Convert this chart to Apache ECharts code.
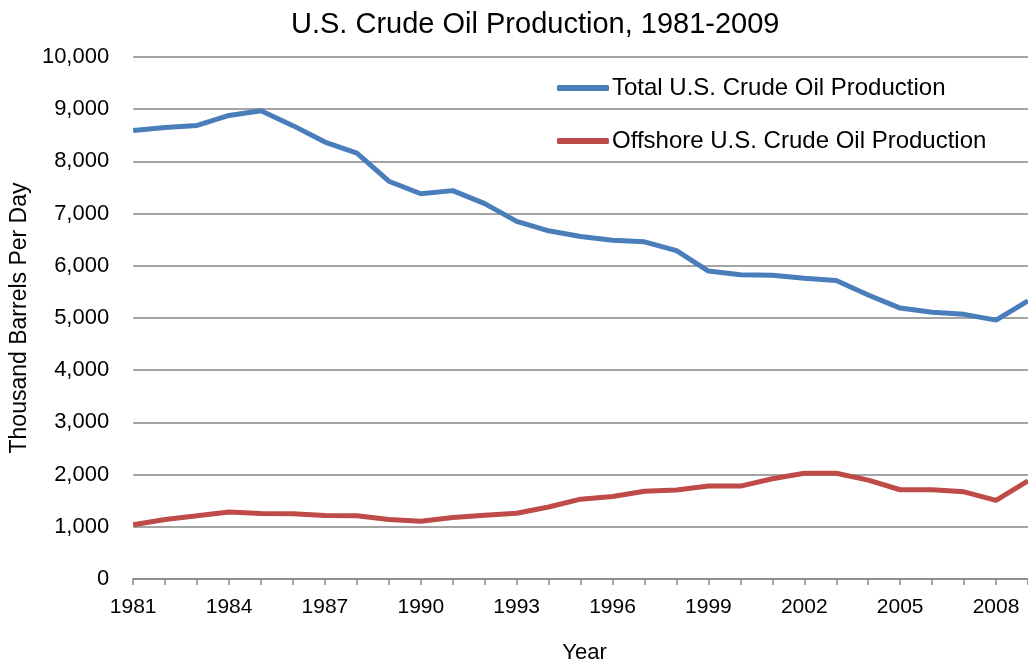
<!DOCTYPE html>
<html>
<head>
<meta charset="utf-8">
<script src="https://cdn.jsdelivr.net/npm/echarts@6/dist/echarts.min.js"></script>
<style>
  html, body { margin: 0; padding: 0; background: #fff; }
  #main { width: 1028px; height: 669px; }
</style>
</head>
<body>
<div id="main"></div>
<script>
// years on the x axis
var years = [];
for (var y = 1981; y <= 2009; y++) years.push(String(y));

// thousand barrels per day
var totalProd = [8590, 8650, 8690, 8880, 8970, 8685, 8370, 8160, 7620, 7380,
                 7440, 7190, 6850, 6670, 6560, 6490, 6460, 6290, 5900, 5830,
                 5820, 5760, 5720, 5440, 5190, 5110, 5070, 4960, 5330];
var offshoreProd = [1040, 1140, 1210, 1285, 1255, 1250, 1215, 1210, 1140, 1105,
                    1180, 1220, 1260, 1380, 1530, 1580, 1680, 1705, 1780, 1780,
                    1920, 2025, 2025, 1895, 1710, 1710, 1670, 1505, 1880];

var font = 'Liberation Sans, Arial, sans-serif';

echarts.init(document.getElementById('main')).setOption({
    animation: false,
    title: {
        text: 'U.S. Crude Oil Production, 1981-2009',
        left: 286,
        top: 5,
        textStyle: { fontFamily: font, fontSize: 29, fontWeight: 'normal', color: '#000' }
    },
    legend: {
        orient: 'vertical',
        left: 552,
        top: 71,
        itemGap: 29,
        itemWidth: 52,
        itemHeight: 6,
        icon: 'roundRect',
        textStyle: { fontFamily: font, fontSize: 24, color: '#000', padding: [0, 0, 0, -2] },
        data: ['Total U.S. Crude Oil Production', 'Offshore U.S. Crude Oil Production']
    },
    grid: { left: 133, right: 0, top: 57, bottom: 87 },
    xAxis: {
        type: 'category',
        data: years,
        boundaryGap: false,
        name: 'Year',
        nameLocation: 'middle',
        nameGap: 63,
        nameTextStyle: { fontFamily: font, fontSize: 22, color: '#000', padding: [0, 0, 0, 8] },
        axisLine: { lineStyle: { color: '#868686', width: 1.5 } },
        axisTick: { interval: 0, length: 6, lineStyle: { color: '#868686', width: 1.5 } },
        axisLabel: { interval: 2, margin: 18, fontFamily: font, fontSize: 21, color: '#000' },
        splitLine: { show: false }
    },
    yAxis: {
        type: 'value',
        min: 0,
        max: 10000,
        interval: 1000,
        name: 'Thousand Barrels Per Day',
        nameLocation: 'middle',
        nameRotate: 90,
        nameGap: 97,
        nameTextStyle: { fontFamily: font, fontSize: 23, color: '#000' },
        axisLine: { show: false },
        axisTick: { show: false },
        axisLabel: {
            margin: 24,
            fontFamily: font,
            fontSize: 22,
            color: '#000',
            formatter: function (v) { return v.toLocaleString('en-US'); }
        },
        splitLine: { lineStyle: { color: '#868686', width: 1.5 } }
    },
    series: [{
        name: 'Total U.S. Crude Oil Production',
        type: 'line',
        data: totalProd,
        showSymbol: false,
        color: '#4A7EBB',
        lineStyle: { width: 5, color: '#4A7EBB' }
    }, {
        name: 'Offshore U.S. Crude Oil Production',
        type: 'line',
        data: offshoreProd,
        showSymbol: false,
        color: '#BE4B48',
        lineStyle: { width: 5, color: '#BE4B48' }
    }]
});
</script>
</body>
</html>
